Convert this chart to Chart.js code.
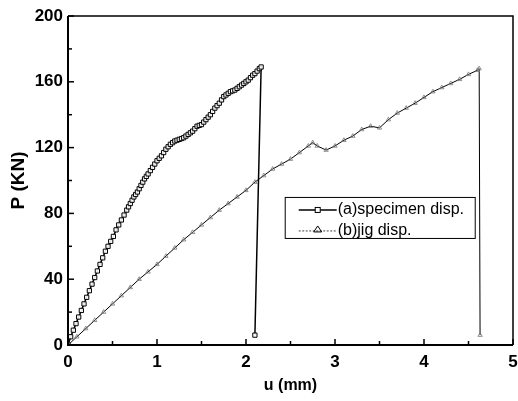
<!DOCTYPE html>
<html>
<head>
<meta charset="utf-8">
<script src="https://cdn.jsdelivr.net/npm/chart.js@4"></script>
<style>
html,body{margin:0;padding:0;background:#fff;}
#wrap{width:518px;height:401px;}
</style>
</head>
<body>
<div id="wrap"><canvas id="c" width="518" height="401"></canvas></div>
<script>
// ---- data ----
const seriesNames = ["(a)specimen disp.", "(b)jig disp."];
const specU = [0,0.03,0.06,0.09,0.12,0.15,0.18,0.21,0.24,0.27,0.30,0.33,0.36,0.39,0.42,0.45,0.48,0.51,0.54,0.57,0.60,0.63,0.66,0.68,0.70,0.72,0.74,0.76,0.78,0.80,0.82,0.84,0.86,0.88,0.90,0.925,0.95,0.975,1.00,1.025,1.05,1.075,1.10,1.125,1.15,1.175,1.20,1.225,1.25,1.275,1.30,1.325,1.35,1.375,1.40,1.425,1.45,1.475,1.50,1.525,1.55,1.575,1.60,1.625,1.65,1.675,1.70,1.725,1.75,1.775,1.80,1.825,1.85,1.875,1.90,1.925,1.95,1.975,2.00,2.025,2.05,2.075,2.10,2.125,2.15,2.17,2.10];
const specP = [0,5,9,13,17,21,25,29,33,37,41,45,49,53,57,60,63,66,70,73,76,79,82,84,86,88,90,91.5,93,95,97,99,101,102.5,104,106,108,110,112,113.5,115,117,119,120.5,122,123,124,124.5,125,125.5,126,127,128,129,130,131.5,133,133.5,134,135.5,137,138.5,140,142,144,145.5,147,149,151,152,153,154,154.5,155,156,157,158,159,160,161,162.5,164,165,166.5,168,169,6];
const jigU = [0,0.1,0.2,0.3,0.4,0.5,0.6,0.7,0.8,0.9,1.0,1.1,1.2,1.3,1.4,1.5,1.6,1.7,1.8,1.9,2.0,2.1,2.2,2.3,2.4,2.5,2.6,2.7,2.75,2.8,2.9,3.0,3.1,3.2,3.3,3.4,3.5,3.6,3.7,3.8,3.9,4.0,4.1,4.2,4.3,4.4,4.5,4.6,4.62,4.63];
const jigP = [0,5,10,15,20,25,30,35,40,44.5,49,54,59,64,68.5,73,77.5,82,86,90,94,99,103,107,110,113,117,121,123,121,118.5,121,124.5,127,131,133,132,137,141,144,147,150.5,154,156.5,159,161.5,164.5,167,168,6];
const xTicks = [0,1,2,3,4,5];
const yTicks = [0,40,80,120,160,200];

const toXY = (xs, ys) => xs.map((x, i) => ({x: x, y: ys[i]}));

const FONT = "'Liberation Sans', Arial, sans-serif";

// inward ticks + frame + legend
const decor = {
  id: 'decor',
  afterDraw(chart) {
    const ctx = chart.ctx;
    const a = chart.chartArea;
    const xs = chart.scales.x, ys = chart.scales.y;
    ctx.save();
    ctx.strokeStyle = '#000';
    // frame
    ctx.lineWidth = 1.5;
    ctx.beginPath();
    ctx.moveTo(a.left, a.top); ctx.lineTo(a.right, a.top); ctx.lineTo(a.right, a.bottom);
    ctx.stroke();
    ctx.lineWidth = 2;
    ctx.beginPath();
    ctx.moveTo(a.left, a.top); ctx.lineTo(a.left, a.bottom); ctx.lineTo(a.right, a.bottom);
    ctx.stroke();
    // ticks
    ctx.lineWidth = 1.5;
    xs.ticks.forEach(t => {
      const px = xs.getPixelForValue(t.value);
      const major = xTicks.includes(t.value);
      const len = major ? 6 : 4;
      ctx.beginPath(); ctx.moveTo(px, a.bottom); ctx.lineTo(px, a.bottom - len); ctx.stroke();
    });
    ys.ticks.forEach(t => {
      const py = ys.getPixelForValue(t.value);
      const major = yTicks.includes(t.value);
      const len = major ? 6 : 4;
      ctx.beginPath(); ctx.moveTo(a.left, py); ctx.lineTo(a.left + len, py); ctx.stroke();
    });
    // legend
    const lx = a.left + (a.right - a.left) * 0.487, ly = a.top + (a.bottom - a.top) * 0.55;
    const lw = 190, lh = 41;
    ctx.fillStyle = '#fff';
    ctx.fillRect(lx, ly, lw, lh);
    ctx.lineWidth = 1;
    ctx.strokeRect(lx + 0.5, ly + 0.5, lw, lh);
    ctx.font = "16px " + FONT;
    ctx.textBaseline = 'middle';
    ctx.textAlign = 'left';
    const rows = [ly + 13, ly + 34];
    chart.data.datasets.forEach((ds, i) => {
      const y = rows[i];
      ctx.save();
      ctx.strokeStyle = i === 0 ? '#000' : '#444';
      ctx.lineWidth = i === 0 ? 1.5 : 1;
      if (i === 1) ctx.setLineDash([2, 1.5]);
      ctx.beginPath(); ctx.moveTo(lx + 14, y); ctx.lineTo(lx + 52, y); ctx.stroke();
      ctx.restore();
      const mx = lx + 33;
      ctx.lineWidth = 1;
      ctx.strokeStyle = '#000';
      if (i === 0) {
        ctx.fillStyle = '#fff';
        ctx.fillRect(mx - 2.5, y - 2.5, 5, 5);
        ctx.strokeRect(mx - 2.5, y - 2.5, 5, 5);
      } else {
        ctx.beginPath(); ctx.moveTo(mx, y - 5); ctx.lineTo(mx + 4, y + 1); ctx.lineTo(mx - 4, y + 1); ctx.closePath(); ctx.stroke();
      }
      ctx.fillStyle = '#000';
      ctx.fillText(ds.label, lx + 53, y);
    });
    ctx.restore();
  }
};

new Chart(document.getElementById('c'), {
  type: 'line',
  data: {
    datasets: [
      {
        label: seriesNames[0],
        data: toXY(specU, specP),
        borderColor: '#000', borderWidth: 1.5,
        pointStyle: 'rect', pointRadius: 3, pointBorderWidth: 1,
        pointBorderColor: '#000', pointBackgroundColor: 'rgba(255,255,255,0.9)',
        tension: 0, fill: false
      },
      {
        label: seriesNames[1],
        data: toXY(jigU, jigP),
        borderColor: '#000', borderWidth: 1,
        pointStyle: 'triangle', pointRadius: 2.5, pointBorderWidth: 0.8,
        pointBorderColor: '#777', pointBackgroundColor: 'rgba(0,0,0,0)',
        tension: 0, fill: false
      }
    ]
  },
  options: {
    responsive: false,
    animation: false,
    devicePixelRatio: 1,
    layout: { padding: { top: 16, right: 1, left: 0, bottom: 0 } },
    plugins: { legend: { display: false }, tooltip: { enabled: false } },
    scales: {
      x: {
        type: 'linear', min: 0, max: 5,
        afterFit: s => { s.height = 56; s.paddingRight = 0; s.paddingLeft = 0; },
        afterBuildTicks: s => { s.ticks = [0,0.5,1,1.5,2,2.5,3,3.5,4,4.5,5].map(v => ({value: v})); },
        ticks: {
          autoSkip: false, maxRotation: 0, padding: 7, color: '#000',
          font: { family: FONT, size: 17, weight: 'bold' },
          callback: v => xTicks.includes(v) ? String(v) : ''
        },
        grid: { display: true, drawOnChartArea: false, drawTicks: false, color: 'rgba(0,0,0,0)' },
        border: { display: false },
        title: { display: true, text: 'u (mm)', color: '#000', padding: { top: 0, bottom: 6 },
          font: { family: FONT, size: 16, weight: 'bold' } }
      },
      y: {
        type: 'linear', min: 0, max: 200,
        afterFit: s => { s.width = 68; },
        afterBuildTicks: s => { s.ticks = [0,20,40,60,80,100,120,140,160,180,200].map(v => ({value: v})); },
        ticks: {
          autoSkip: false, padding: 5, color: '#000',
          font: { family: FONT, size: 17, weight: 'bold' },
          callback: v => yTicks.includes(v) ? String(v) : ''
        },
        grid: { display: true, drawOnChartArea: false, drawTicks: false, color: 'rgba(0,0,0,0)' },
        border: { display: false },
        title: { display: true, text: 'P (KN)', color: '#000', padding: { top: 7, bottom: 0 },
          font: { family: FONT, size: 19, weight: 'bold' } }
      }
    }
  },
  plugins: [decor]
});
</script>
</body>
</html>
